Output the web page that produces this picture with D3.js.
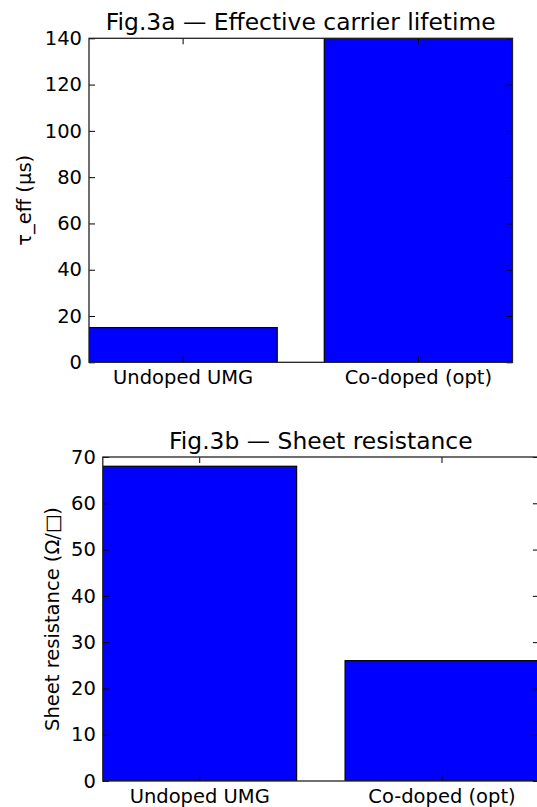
<!DOCTYPE html>
<html>
<head>
<meta charset="utf-8">
<script src="https://cdn.jsdelivr.net/npm/d3@7"></script>
<style>
  html, body { margin: 0; padding: 0; background: #fff; }
  svg { display: block; font-family: "DejaVu Sans", sans-serif; }
</style>
</head>
<body>
<div id="chart"></div>
<script>
var categories = ["Undoped UMG", "Co-doped (opt)"];

var lifetimeValues = [15, 140];
var lifetimeTicks = [0, 20, 40, 60, 80, 100, 120, 140];

var resistanceValues = [68, 26];
var resistanceTicks = [0, 10, 20, 30, 40, 50, 60, 70];

var width = 537, height = 807;
var tickFont = 19.5, titleFont = 23.4;

var svg = d3.select("#chart")
    .append("svg")
    .attr("width", width)
    .attr("height", height);

function drawPanel(opts) {
    var box = opts.box;

    var x = d3.scaleBand()
        .domain(categories)
        .range([box.left, box.right])
        .paddingInner(0.2)
        .paddingOuter(0);

    var y = d3.scaleLinear()
        .domain([0, opts.max])
        .range([box.bottom, box.top]);

    var g = svg.append("g");

    g.append("defs").append("clipPath")
        .attr("id", opts.id + "-clip")
        .append("rect")
        .attr("x", box.left)
        .attr("y", box.top)
        .attr("width", box.right - box.left)
        .attr("height", box.bottom - box.top);

    g.append("g")
        .attr("clip-path", "url(#" + opts.id + "-clip)")
        .selectAll("rect")
        .data(opts.values)
        .enter().append("rect")
        .attr("x", function (d, i) { return x(categories[i]); })
        .attr("y", function (d) { return y(d); })
        .attr("width", x.bandwidth())
        .attr("height", function (d) { return y(0) - y(d); })
        .attr("fill", "#0000ff")
        .attr("stroke", "#000")
        .attr("stroke-width", 1.2);

    // ticks point inward on all four sides (classic style)
    var left = g.append("g")
        .attr("transform", "translate(" + box.left + ",0)")
        .call(d3.axisLeft(y).tickValues(opts.ticks).tickSize(-6).tickSizeOuter(0).tickPadding(7));
    var right = g.append("g")
        .attr("transform", "translate(" + box.right + ",0)")
        .call(d3.axisRight(y).tickValues(opts.ticks).tickSize(-6).tickSizeOuter(0).tickFormat(""));
    var bottom = g.append("g")
        .attr("transform", "translate(0," + box.bottom + ")")
        .call(d3.axisBottom(x).tickSize(-6).tickSizeOuter(0).tickPadding(8));
    var top = g.append("g")
        .attr("transform", "translate(0," + box.top + ")")
        .call(d3.axisTop(x).tickSize(-6).tickSizeOuter(0).tickFormat(""));

    [left, right, bottom, top].forEach(function (a) {
        a.select(".domain").remove();
        a.selectAll(".tick line").attr("stroke", "#000").attr("stroke-width", 1);
        a.selectAll(".tick text")
            .attr("fill", "#000")
            .style("font-size", tickFont + "px")
            .style("font-family", "DejaVu Sans, sans-serif");
    });

    g.append("rect")
        .attr("x", box.left)
        .attr("y", box.top)
        .attr("width", box.right - box.left)
        .attr("height", box.bottom - box.top)
        .attr("fill", "none")
        .attr("stroke", "#222")
        .attr("stroke-width", 1.3);

    g.append("text")
        .attr("x", (box.left + box.right) / 2)
        .attr("y", box.top - 8)
        .attr("text-anchor", "middle")
        .style("font-size", titleFont + "px")
        .text(opts.title);

    g.append("text")
        .attr("transform", "translate(" + opts.labelX + "," + ((box.top + box.bottom) / 2) + ") rotate(-90)")
        .attr("text-anchor", "middle")
        .attr("dy", "0.35em")
        .style("font-size", tickFont + "px")
        .text(opts.ylabel);
}

drawPanel({
    id: "fig3a",
    box: {left: 89, right: 512.5, top: 38.3, bottom: 362.3},
    max: 140,
    ticks: lifetimeTicks,
    values: lifetimeValues,
    title: "Fig.3a \u2014 Effective carrier lifetime",
    ylabel: "\u03c4_eff (\u00b5s)",
    labelX: 24
});

drawPanel({
    id: "fig3b",
    box: {left: 102.8, right: 538.9, top: 457, bottom: 781},
    max: 70,
    ticks: resistanceTicks,
    values: resistanceValues,
    title: "Fig.3b \u2014 Sheet resistance",
    ylabel: "Sheet resistance (\u03a9/\u25a1)",
    labelX: 52
});
</script>
</body>
</html>
